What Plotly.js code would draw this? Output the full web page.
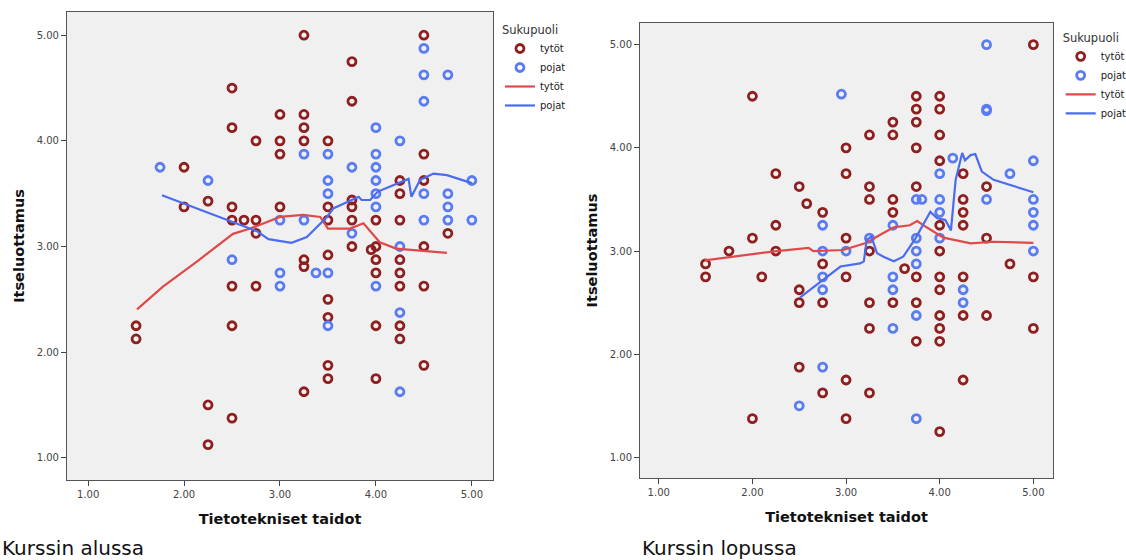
<!DOCTYPE html>
<html>
<head>
<meta charset="utf-8">
<script src="https://cdn.plot.ly/plotly-3.0.1.min.js"></script>
<style>html,body{margin:0;padding:0;background:#fff;}#chart{width:1126px;height:560px;}</style>
</head>
<body>
<div id="chart"></div>
<script>
// ---------- Data: Kurssin alussa (left) ----------
const startGirlsX = [3.25,4.5,3.75,2.5,3.75,3.0,3.25,2.5,3.25,2.75,3.0,3.25,3.5,3.0,4.5,2.0,4.25,4.5,4.25,2.25,2.0,2.5,3.0,3.5,3.75,3.75,2.5,2.625,2.75,3.5,3.75,4.0,4.25,2.75,4.75,3.75,3.95,4.0,4.5,3.5,3.25,3.25,4.0,4.25,4.0,4.25,2.5,2.75,4.25,4.5,3.5,3.5,1.5,2.5,4.0,4.25,1.5,4.25,3.5,4.5,3.5,4.0,3.25,2.25,2.5,2.25];
const startGirlsY = [5.0,5.0,4.75,4.5,4.375,4.25,4.25,4.125,4.125,4.0,4.0,4.0,4.0,3.875,3.875,3.75,3.625,3.625,3.5,3.43,3.375,3.375,3.375,3.375,3.375,3.44,3.25,3.25,3.25,3.25,3.25,3.25,3.25,3.125,3.125,3.0,2.97,3.0,3.0,2.92,2.875,2.81,2.875,2.875,2.75,2.75,2.625,2.625,2.625,2.625,2.5,2.33,2.25,2.25,2.25,2.25,2.125,2.125,1.875,1.875,1.75,1.75,1.625,1.5,1.375,1.125];
const startBoysX = [4.5,4.5,4.75,4.5,4.0,4.25,3.25,3.5,4.0,1.75,3.75,4.0,2.25,3.5,4.0,5.0,3.5,4.0,4.5,4.75,4.0,4.75,3.0,3.25,4.5,4.75,5.0,3.75,4.25,2.5,3.0,3.375,3.5,3.0,4.0,4.25,3.5,4.25];
const startBoysY = [4.875,4.625,4.625,4.375,4.125,4.0,3.875,3.875,3.875,3.75,3.75,3.75,3.625,3.625,3.625,3.625,3.5,3.5,3.5,3.5,3.375,3.375,3.25,3.25,3.25,3.25,3.25,3.125,3.0,2.875,2.75,2.75,2.75,2.625,2.625,2.375,2.25,1.625];
const startGirlsFitX = [1.51,1.78,2.13,2.34,2.51,2.69,2.83,3.0,3.24,3.42,3.50,3.73,3.87,4.04,4.21,4.74];
const startGirlsFitY = [2.405,2.62,2.855,3.0,3.12,3.17,3.22,3.28,3.30,3.28,3.17,3.17,3.22,3.04,2.98,2.94];
const startBoysFitX = [1.77,2.13,2.48,2.76,2.88,3.12,3.28,3.49,3.555,3.82,3.85,3.94,4.02,4.25,4.34,4.37,4.46,4.6,4.74,5.0];
const startBoysFitY = [3.486,3.36,3.24,3.145,3.07,3.035,3.09,3.28,3.36,3.47,3.44,3.44,3.52,3.61,3.64,3.47,3.63,3.69,3.675,3.6];

// ---------- Data: Kurssin lopussa (right) ----------
const endGirlsX = [5.0,2.0,3.75,4.0,3.75,4.0,3.5,3.75,3.25,3.5,4.0,3.0,3.75,4.0,2.25,3.0,4.25,2.5,3.25,3.75,4.5,3.25,3.5,4.25,2.58,2.75,3.5,4.25,2.25,4.0,4.25,2.0,3.0,4.5,1.75,2.25,3.25,4.0,1.5,2.75,4.75,3.625,1.5,2.1,3.0,3.75,4.0,4.25,5.0,2.5,4.0,2.5,2.75,3.25,3.5,3.75,4.0,4.25,4.5,3.25,4.0,5.0,3.75,4.0,2.5,3.0,4.25,2.75,3.25,2.0,3.0,4.0];
const endGirlsY = [5.0,4.5,4.5,4.5,4.375,4.375,4.25,4.25,4.125,4.125,4.125,4.0,4.0,3.875,3.75,3.75,3.75,3.625,3.625,3.625,3.625,3.5,3.5,3.5,3.46,3.375,3.375,3.375,3.25,3.25,3.25,3.125,3.125,3.125,3.0,3.0,3.0,3.0,2.875,2.875,2.875,2.83,2.75,2.75,2.75,2.75,2.75,2.75,2.75,2.625,2.625,2.5,2.5,2.5,2.5,2.5,2.375,2.375,2.375,2.25,2.25,2.25,2.125,2.125,1.875,1.75,1.75,1.625,1.625,1.375,1.375,1.25];
const endBoysX = [4.5,2.95,4.5,4.5,4.14,5.0,4.0,4.75,3.75,3.81,4.0,4.5,5.0,4.0,5.0,2.75,3.5,5.0,3.25,3.75,4.0,2.75,3.0,3.75,5.0,3.75,2.75,3.5,2.75,3.5,4.25,4.25,3.75,3.5,2.75,2.5,3.75];
const endBoysY = [5.0,4.52,4.375,4.36,3.9,3.875,3.75,3.75,3.5,3.5,3.5,3.5,3.5,3.375,3.375,3.25,3.25,3.25,3.125,3.125,3.125,3.0,3.0,3.0,3.0,2.875,2.75,2.75,2.625,2.625,2.625,2.5,2.375,2.25,1.875,1.5,1.375];
const endGirlsFitX = [1.49,2.26,2.6,2.65,2.97,3.22,3.36,3.51,3.68,3.76,3.86,4.04,4.33,4.575,5.0];
const endGirlsFitY = [2.91,3.0,3.03,3.0,3.01,3.08,3.155,3.23,3.25,3.29,3.23,3.13,3.075,3.09,3.08];
const endBoysFitX = [2.51,2.76,2.94,3.15,3.19,3.22,3.27,3.33,3.40,3.51,3.61,3.74,3.90,3.97,4.06,4.12,4.17,4.24,4.27,4.33,4.38,4.45,4.575,5.0];
const endBoysFitY = [2.55,2.72,2.85,2.88,2.90,3.107,3.14,2.98,2.945,2.90,2.945,3.12,3.38,3.32,3.30,3.20,3.69,3.95,3.88,3.93,3.94,3.77,3.69,3.57];

// ---------- Labels ----------
const tickValues = [1,2,3,4,5];
const tickLabels = ['1.00','2.00','3.00','4.00','5.00'];
const groupNames = ['tytöt','pojat'];
const legendTitle = 'Sukupuoli';
const xTitle = 'Tietotekniset taidot';
const yTitle = 'Itseluottamus';
const captions = ['Kurssin alussa','Kurssin lopussa'];

// ---------- Styles ----------
const RED_M = '#8e1f1f', BLUE_M = '#5a7cf2', RED_L = '#e0494a', BLUE_L = '#4b6cf0';
const FONT = 'DejaVu Sans, Arial, sans-serif';

function markerTrace(x, y, name, color, xa, ya, lg) {
  return {type:'scatter', mode:'markers', x:x, y:y, name:name, xaxis:xa, yaxis:ya, legend:lg,
    marker:{symbol:'circle-open', size:8, color:color, line:{width:2.8, color:color}},
    hoverinfo:'x+y'};
}
function lineTrace(x, y, name, color, xa, ya, lg) {
  return {type:'scatter', mode:'lines', x:x, y:y, name:name, xaxis:xa, yaxis:ya, legend:lg,
    line:{color:color, width:2.2, shape:'linear'}};
}

const data = [
  markerTrace(startGirlsX, startGirlsY, groupNames[0], RED_M, 'x', 'y', 'legend'),
  markerTrace(startBoysX, startBoysY, groupNames[1], BLUE_M, 'x', 'y', 'legend'),
  lineTrace(startGirlsFitX, startGirlsFitY, groupNames[0], RED_L, 'x', 'y', 'legend'),
  lineTrace(startBoysFitX, startBoysFitY, groupNames[1], BLUE_L, 'x', 'y', 'legend'),
  markerTrace(endGirlsX, endGirlsY, groupNames[0], RED_M, 'x2', 'y2', 'legend2'),
  markerTrace(endBoysX, endBoysY, groupNames[1], BLUE_M, 'x2', 'y2', 'legend2'),
  lineTrace(endGirlsFitX, endGirlsFitY, groupNames[0], RED_L, 'x2', 'y2', 'legend2'),
  lineTrace(endBoysFitX, endBoysFitY, groupNames[1], BLUE_L, 'x2', 'y2', 'legend2')
];

function xAxis(domain, range, anchor) {
  return {domain:domain, range:range, anchor:anchor, tickvals:tickValues, ticktext:tickLabels,
    ticks:'outside', ticklen:5, tickcolor:'#444', tickfont:{family:FONT, size:10, color:'#444'},
    showgrid:false, zeroline:false, showline:true, mirror:true, linecolor:'#555', linewidth:1,
    title:{text:xTitle, font:{family:FONT, size:14.5, color:'#111', weight:'bold'}, standoff:14}};
}
function yAxis(domain, range, anchor) {
  return {domain:domain, range:range, anchor:anchor, tickvals:tickValues, ticktext:tickLabels,
    ticks:'outside', ticklen:5, tickcolor:'#444', tickfont:{family:FONT, size:10, color:'#444'},
    showgrid:false, zeroline:false, showline:true, mirror:true, linecolor:'#555', linewidth:1,
    title:{text:yTitle, font:{family:FONT, size:14.5, color:'#111', weight:'bold'}, standoff:8}};
}
function legendCfg(x, y) {
  return {x:x, y:y, xref:'paper', yref:'paper', xanchor:'left', yanchor:'top',
    bgcolor:'rgba(0,0,0,0)', borderwidth:0, itemwidth:30,
    font:{family:FONT, size:10, color:'#222'},
    title:{text:legendTitle, font:{family:FONT, size:11.5, color:'#333'}}};
}

const layout = {
  width:1126, height:560,
  margin:{l:0, r:0, t:0, b:0, pad:0, autoexpand:false},
  paper_bgcolor:'#ffffff', plot_bgcolor:'#f0f0f0',
  showlegend:true,
  xaxis: xAxis([0.0595, 0.4378], [0.78, 5.22], 'y'),
  yaxis: yAxis([0.1429, 0.9786], [0.79, 5.22], 'x'),
  xaxis2: xAxis([0.5684, 0.9352], [0.80, 5.21], 'y2'),
  yaxis2: yAxis([0.1464, 0.9589], [0.80, 5.21], 'x2'),
  legend: legendCfg(0.444, 0.966),
  legend2: legendCfg(0.942, 0.952),
  annotations: [
    {text:captions[0], xref:'paper', yref:'paper', x:0, y:1-548/560, xanchor:'left', yanchor:'middle',
     showarrow:false, font:{family:FONT, size:20, color:'#111'}},
    {text:captions[1], xref:'paper', yref:'paper', x:640/1126, y:1-548/560, xanchor:'left', yanchor:'middle',
     showarrow:false, font:{family:FONT, size:20, color:'#111'}}
  ]
};

Plotly.newPlot('chart', data, layout, {displayModeBar:false, staticPlot:true});
</script>
</body>
</html>
